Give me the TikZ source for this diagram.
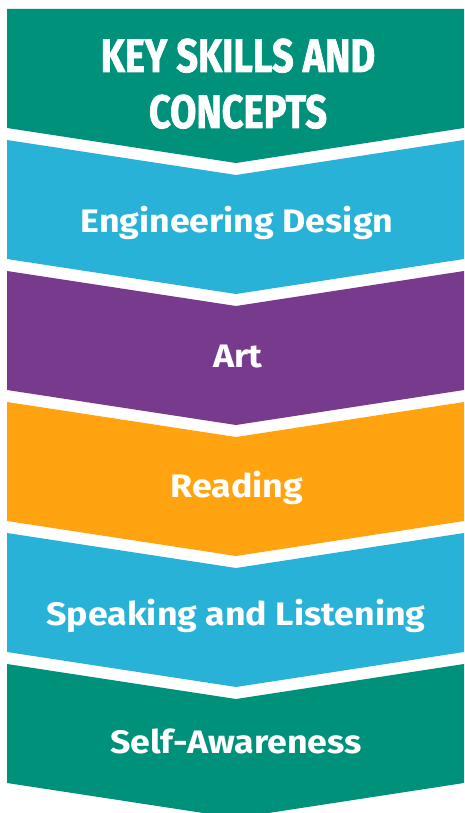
\documentclass[tikz,border=0pt]{standalone}
\usepackage{fontspec}
\newfontfamily\bodyfont{Fira Sans}[FakeStretch=1.1]
\newfontfamily\headfont{Fira Sans}[FakeStretch=0.81, FakeBold=1.4]
\usetikzlibrary{positioning}
\definecolor{keygreen}{RGB}{0,145,122}
\definecolor{keyblue}{RGB}{41,178,215}
\definecolor{keypurple}{RGB}{119,58,141}
\definecolor{keyorange}{RGB}{255,163,17}
\tikzset{
    x=1pt, y=-1pt, % one unit is one pixel of the picture, y runs downwards
    band/.style={fill=#1, draw=none}, % sets the colour of one chevron band
    heading/.style={text=white, anchor=base, align=center, font=\headfont\bfseries\fontsize{47}{56}\selectfont}, % the title in the top band
    skill/.style={text=white, anchor=base, font=\bodyfont\bfseries\fontsize{32.5}{32}\selectfont}, % the name in each band
}

\begin{document}
\begin{tikzpicture}
    \useasboundingbox (0,0) rectangle (464,813);
    % top band, flat on top
    \fill[band=keygreen] (7,9) -- (464,9) -- (464,128) -- (236,163) -- (7,128) -- cycle;
    % the other bands, each notched on top
    \foreach \t/\c in {140/keyblue, 271/keypurple, 402/keyorange, 533/keyblue, 664/keygreen}{
        \fill[band=\c] (7,\t) -- (236,\t+35) -- (464,\t) -- (464,\t+119) -- (236,\t+154) -- (7,\t+119) -- cycle;
    }
    \node[heading] (title1) at (238,72) {KEY SKILLS AND};
    \node[heading] (title2) at (238,128) {CONCEPTS};
    \node[skill] (eng) at (237,232.5) {Engineering Design};
    \node[skill] (art) at (238,367) {Art};
    \node[skill] (read) at (237,497) {Reading};
    \node[skill] (speak) at (236,625) {Speaking and Listening};
    \node[skill] (self) at (236,753) {Self-Awareness};
\end{tikzpicture}
\end{document}
